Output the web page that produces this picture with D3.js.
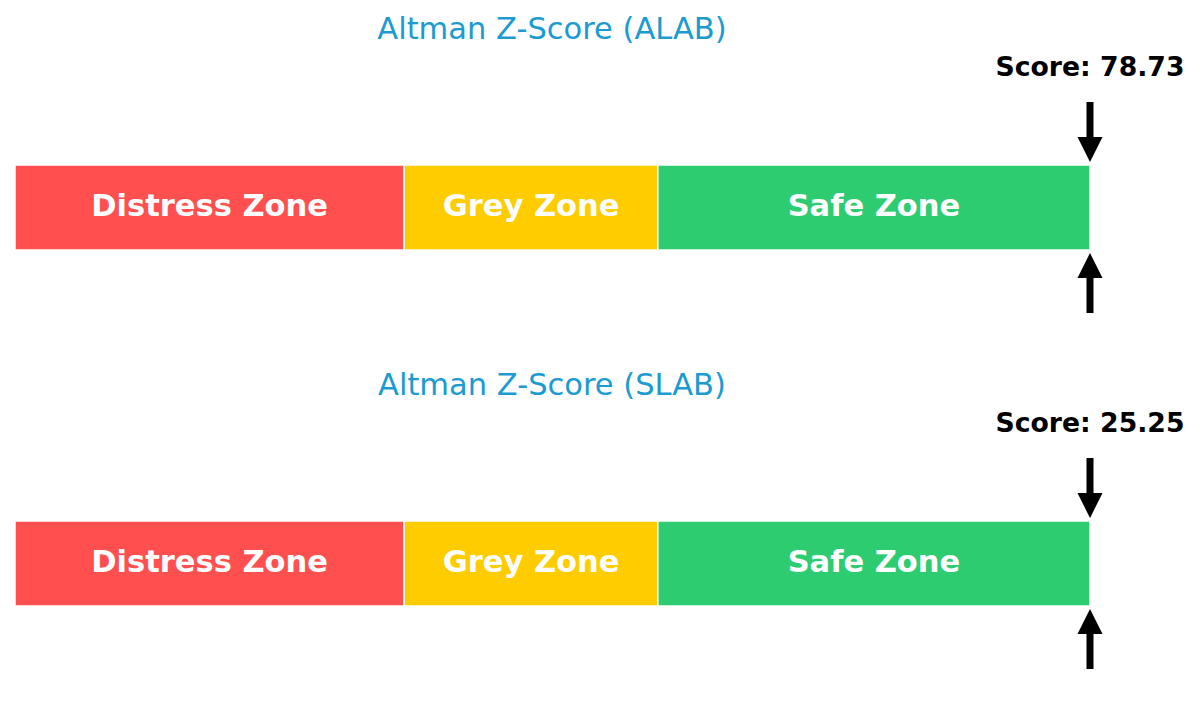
<!DOCTYPE html>
<html>
<head>
<meta charset="utf-8">
<script src="https://cdn.jsdelivr.net/npm/d3@7"></script>
<style>
  body { margin: 0; background: #fff; }
  svg { display: block; font-family: "DejaVu Sans", sans-serif; }
</style>
</head>
<body>
<div id="chart"></div>
<script>
// tickers and their Altman Z-scores
const tickers = ["ALAB", "SLAB"];
const scores = [78.73, 25.25];

// zone boundaries on the gauge
const zoneNames = ["Distress Zone", "Grey Zone", "Safe Zone"];
const zoneBreaks = [0, 1.81, 2.99, 5];
const zoneColors = ["#ff4f4f", "#ffcc00", "#2ecc71"];

const width = 1200, height = 712;

const svg = d3.select("#chart")
    .append("svg")
    .attr("width", width)
    .attr("height", height);

// x maps z-score onto the bar, clamped so big scores sit at the end
const x = d3.scaleLinear()
    .domain([zoneBreaks[0], zoneBreaks[zoneBreaks.length - 1]])
    .range([15, 1090])
    .clamp(true);

// one panel per ticker
const panelY = d3.scalePoint()
    .domain(tickers)
    .range([0, 356]);

const barTop = 165, barH = 85;

const zones = zoneNames.map((name, i) => ({
    name: name,
    from: zoneBreaks[i],
    to: zoneBreaks[i + 1],
    color: zoneColors[i]
}));

function arrowPath(cx, tipY, tailY) {
    // filled arrow: shaft + triangular head, pointing toward tipY
    const dir = tipY > tailY ? 1 : -1;
    const hw = 12.5, sw = 3.5, hl = 25;
    const neck = tipY - dir * hl;
    return `M${cx - sw},${tailY} L${cx + sw},${tailY} L${cx + sw},${neck}` +
        ` L${cx + hw},${neck} L${cx},${tipY} L${cx - hw},${neck} L${cx - sw},${neck} Z`;
}

tickers.forEach((t, k) => {
    const g = svg.append("g")
        .attr("transform", `translate(0,${panelY(t)})`);

    g.append("text")
        .attr("x", 552)
        .attr("y", 28)
        .attr("text-anchor", "middle")
        .attr("dominant-baseline", "central")
        .attr("fill", "#1b9bd1")
        .style("font-size", "30.5px")
        .text(`Altman Z-Score (${t})`);

    g.selectAll("rect.zone")
        .data(zones)
        .enter()
        .append("rect")
        .attr("class", "zone")
        .attr("x", d => x(d.from))
        .attr("y", barTop)
        .attr("width", d => x(d.to) - x(d.from))
        .attr("height", barH)
        .attr("fill", d => d.color)
        .attr("stroke", "#fff")
        .attr("stroke-width", 1.5);

    g.selectAll("text.zone")
        .data(zones)
        .enter()
        .append("text")
        .attr("class", "zone")
        .attr("x", d => (x(d.from) + x(d.to)) / 2)
        .attr("y", barTop + barH / 2 - 2.5)
        .attr("text-anchor", "middle")
        .attr("dominant-baseline", "central")
        .attr("fill", "#fff")
        .style("font-size", "30.5px")
        .style("font-weight", "bold")
        .text(d => d.name);

    const sx = x(scores[k]);

    g.append("text")
        .attr("x", sx)
        .attr("y", 66)
        .attr("text-anchor", "middle")
        .attr("dominant-baseline", "central")
        .attr("fill", "#000")
        .style("font-size", "26.7px")
        .style("font-weight", "bold")
        .text(`Score: ${scores[k].toFixed(2)}`);

    g.append("path")
        .attr("d", arrowPath(sx, barTop - 3, barTop - 63))
        .attr("fill", "#000");

    g.append("path")
        .attr("d", arrowPath(sx, barTop + barH + 3, barTop + barH + 63))
        .attr("fill", "#000");
});
</script>
</body>
</html>
